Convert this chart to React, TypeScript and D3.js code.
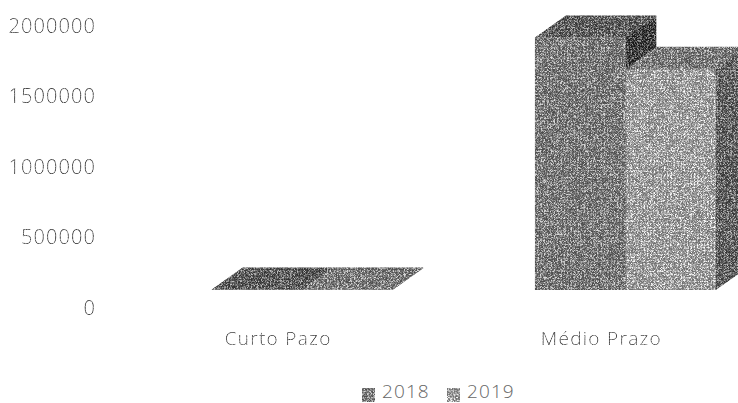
import React, { useEffect, useRef } from "react";
import * as d3 from "d3";

const categories = ["Curto Pazo", "Médio Prazo"];
const seriesNames = ["2018", "2019"];
const values2018 = [3000, 1790000];
const values2019 = [3000, 1570000];
const yTicks = [0, 500000, 1000000, 1500000, 2000000];

const width = 738, height = 403;
const depthX = 31, depthY = 22;
const font = "'Open Sans', sans-serif";
const textColor = "#666";

const App = () => {
  const chartRef = useRef<SVGSVGElement>(null);

  useEffect(() => {
    const svg = d3.select(chartRef.current);
    svg.selectAll("*").remove();

    const defs = svg.append("defs");

    // scanned-photocopy grain
    const addGrain = (id: string, amount: number, seed: number) => {
      const f = defs.append("filter").attr("id", id)
        .attr("x", "-5%").attr("y", "-5%").attr("width", "110%").attr("height", "110%")
        .attr("color-interpolation-filters", "sRGB");
      f.append("feTurbulence").attr("type", "turbulence")
        .attr("baseFrequency", 2.7).attr("numOctaves", 1).attr("seed", seed).attr("result", "n");
      f.append("feColorMatrix").attr("in", "n").attr("type", "matrix")
        .attr("values", "2.2 0 0 0 0  2.2 0 0 0 0  2.2 0 0 0 0  0 0 0 0 1").attr("result", "g");
      f.append("feComposite").attr("in", "SourceGraphic").attr("in2", "g")
        .attr("operator", "arithmetic")
        .attr("k1", 0).attr("k2", 1).attr("k3", amount).attr("k4", -amount * 0.3).attr("result", "c");
      f.append("feComposite").attr("in", "c").attr("in2", "SourceAlpha").attr("operator", "in");
    };
    addGrain("grain", 0.55, 3);
    addGrain("textGrain", 0.4, 8);

    const x0 = d3.scaleBand().domain(categories).range([140.5, 787]);
    const x1 = d3.scaleBand().domain(seriesNames).range([0, 181]);
    const y = d3.scaleLinear().domain([0, 2000000]).range([290, 8]);

    // tick labels sit lower than the front plane of the bars
    const axis = svg.append("g")
      .attr("transform", "translate(96,18)")
      .attr("filter", "url(#textGrain)")
      .call(d3.axisLeft(y).tickValues(yTicks).tickSize(0).tickPadding(0).tickFormat(d3.format("d") as any));
    axis.select(".domain").remove();
    axis.selectAll("text")
      .attr("font-family", font).attr("font-size", 20).attr("font-weight", 300)
      .attr("letter-spacing", 1.1).attr("fill", textColor);

    const colors: Record<string, { front: string; top: string; side: string }> = {
      "2018": { front: "#777777", top: "#5c5c5c", side: "#3e3e3e" },
      "2019": { front: "#9b9b9b", top: "#787878", side: "#606060" },
    };

    const bars = svg.append("g").attr("filter", "url(#grain)");
    const rows = categories.flatMap((c, i) => [
      { cat: c, s: "2018", v: values2018[i] },
      { cat: c, s: "2019", v: values2019[i] },
    ]);

    rows.forEach(d => {
      const left = x0(d.cat)! + (x0.bandwidth() - 181) / 2 + x1(d.s)!;
      const right = left + x1.bandwidth();
      const top = y(d.v), base = y(0);
      const col = colors[d.s];
      const path = d3.path;

      const side = path();
      side.moveTo(right, top);
      side.lineTo(right + depthX, top - depthY);
      side.lineTo(right + depthX, base - depthY);
      side.lineTo(right, base);
      side.closePath();
      bars.append("path").attr("d", side.toString()).attr("fill", col.side);

      const lid = path();
      lid.moveTo(left, top);
      lid.lineTo(left + depthX, top - depthY);
      lid.lineTo(right + depthX, top - depthY);
      lid.lineTo(right, top);
      lid.closePath();
      bars.append("path").attr("d", lid.toString()).attr("fill", col.top);

      bars.append("rect")
        .attr("x", left).attr("y", top)
        .attr("width", x1.bandwidth()).attr("height", base - top)
        .attr("fill", col.front);
    });

    // category labels
    svg.append("g").attr("filter", "url(#textGrain)")
      .selectAll("text").data(categories).enter().append("text")
      .attr("x", d => x0(d)! + x0.bandwidth() / 2 - 24)
      .attr("y", 345)
      .attr("text-anchor", "middle")
      .attr("font-family", font).attr("font-size", 19).attr("font-weight", 300)
      .attr("letter-spacing", 1.3).attr("fill", textColor)
      .text(d => d);

    // legend
    const legendX = d3.scalePoint().domain(seriesNames).range([362, 447]);
    const legend = svg.append("g");
    seriesNames.forEach(s => {
      legend.append("rect")
        .attr("x", legendX(s)!).attr("y", 388)
        .attr("width", 13).attr("height", 14)
        .attr("fill", colors[s].front)
        .attr("filter", "url(#grain)");
      legend.append("text")
        .attr("x", legendX(s)! + 20).attr("y", 398)
        .attr("font-family", font).attr("font-size", 19).attr("font-weight", 300)
        .attr("letter-spacing", 1.1).attr("fill", textColor)
        .text(s);
    });
  }, []);

  return (
    <svg
      ref={chartRef}
      width={width}
      height={height}
      style={{ position: "absolute", left: 0, top: 0, background: "#fff" }}
    />
  );
};

export default App;
